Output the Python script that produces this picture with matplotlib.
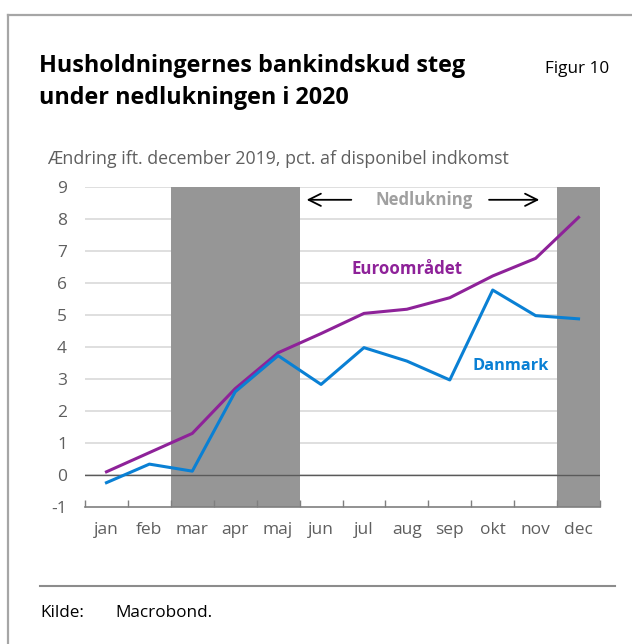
import matplotlib

matplotlib.use("Agg")

import matplotlib.pyplot as plt
from matplotlib.lines import Line2D
import numpy as np

months = ["jan", "feb", "mar", "apr", "maj", "jun", "jul", "aug", "sep", "okt", "nov", "dec"]
danmark = [-0.24, 0.34, 0.12, 2.6, 3.73, 2.83, 3.98, 3.56, 2.97, 5.78, 4.98, 4.88]
euro = [0.1, 0.7, 1.3, 2.7, 3.82, 4.42, 5.05, 5.18, 5.54, 6.22, 6.77, 8.05]
lockdown_spans = [(2, 4), (11, 11)]  # first and last month shaded
yticks = list(range(-1, 10))

BLUE = "#0A80D4"
PURPLE = "#8E2299"
SHADE = "#969696"
TXT = "#5f5f5f"

plt.rcParams["font.family"] = ["Open Sans", "DejaVu Sans"]

W, H = 632, 644
fig = plt.figure(figsize=(W / 100, H / 100), dpi=100)


def fx(x):
    return x / W


def fy(y):
    return 1 - y / H


# outer frame (left and top)
fig.add_artist(Line2D([fx(8), fx(8)], [fy(15), 0], color="#a6a6a6", lw=1.6))
fig.add_artist(Line2D([fx(8), 1], [fy(15), fy(15)], color="#a6a6a6", lw=1.6))

fig.text(fx(39), fy(72), "Husholdningernes bankindskud steg", fontsize=16.8,
         fontweight="bold", color="black", va="baseline")
fig.text(fx(39), fy(104), "under nedlukningen i 2020", fontsize=16.8,
         fontweight="bold", color="black", va="baseline")
fig.text(fx(545), fy(73), "Figur 10", fontsize=12.3, color="black", va="baseline")
fig.text(fx(47), fy(164), "Ændring ift. december 2019, pct. af disponibel indkomst",
         fontsize=12.8, color=TXT, va="baseline")

ax = fig.add_axes([fx(85), fy(507), fx(600) - fx(85), fy(187) - fy(507)])
x = np.arange(len(months))

for a, b in lockdown_spans:
    ax.axvspan(a - 0.5, b + 0.5, color=SHADE, lw=0, zorder=1)

for v in yticks[1:]:
    ax.axhline(v, color="#d9d9d9", lw=1.2, zorder=0.5)
ax.axhline(0, color="#5a5a5a", lw=1.0, zorder=2)

ax.plot(x, euro, color=PURPLE, lw=2.2, zorder=3)
ax.plot(x, danmark, color=BLUE, lw=2.2, zorder=3)

ax.set_xlim(-0.5, len(months) - 0.5)
ax.set_ylim(-1, 9)
ax.set_yticks(yticks)
ax.set_yticklabels([str(v) for v in yticks], fontsize=12.5, color=TXT)
ax.set_xticks(x)
ax.set_xticklabels(months, fontsize=12.5, color=TXT)
ax.tick_params(axis="y", length=0, pad=13)
ax.tick_params(axis="x", length=0, pad=11)
ax.set_xticks(np.arange(-0.5, len(months)), minor=True)
ax.tick_params(axis="x", which="minor", direction="in", length=5, color="#7f7f7f", width=1)
for s in ["top", "right", "left"]:
    ax.spines[s].set_visible(False)
ax.spines["bottom"].set_color("#7f7f7f")
ax.spines["bottom"].set_linewidth(1.2)
ax.spines["bottom"].set_zorder(4)

# lockdown annotation
ax.annotate("", xy=(4.6, 8.6), xytext=(5.77, 8.6),
            arrowprops=dict(arrowstyle="->", color="black", lw=1.3, mutation_scale=22))
ax.annotate("", xy=(10.15, 8.6), xytext=(8.85, 8.6),
            arrowprops=dict(arrowstyle="->", color="black", lw=1.3, mutation_scale=22))
ax.text(7.4, 8.6, "Nedlukning", color="#a0a0a0", fontsize=12.1, fontweight="bold",
        ha="center", va="center")

ax.text(7.0, 6.43, "Euroområdet", color=PURPLE, fontsize=12.2, fontweight="bold",
        ha="center", va="center")
ax.text(9.43, 3.4, "Danmark", color=BLUE, fontsize=11.8, fontweight="bold",
        ha="center", va="center")

fig.add_artist(Line2D([fx(40), fx(615)], [fy(586), fy(586)], color="#8c8c8c", lw=1.5))
fig.text(fx(40), fy(617), "Kilde:", fontsize=12.3, color="black", va="baseline")
fig.text(fx(115), fy(617), "Macrobond.", fontsize=12.3, color="black", va="baseline")

fig.savefig("out.png", dpi=100)
